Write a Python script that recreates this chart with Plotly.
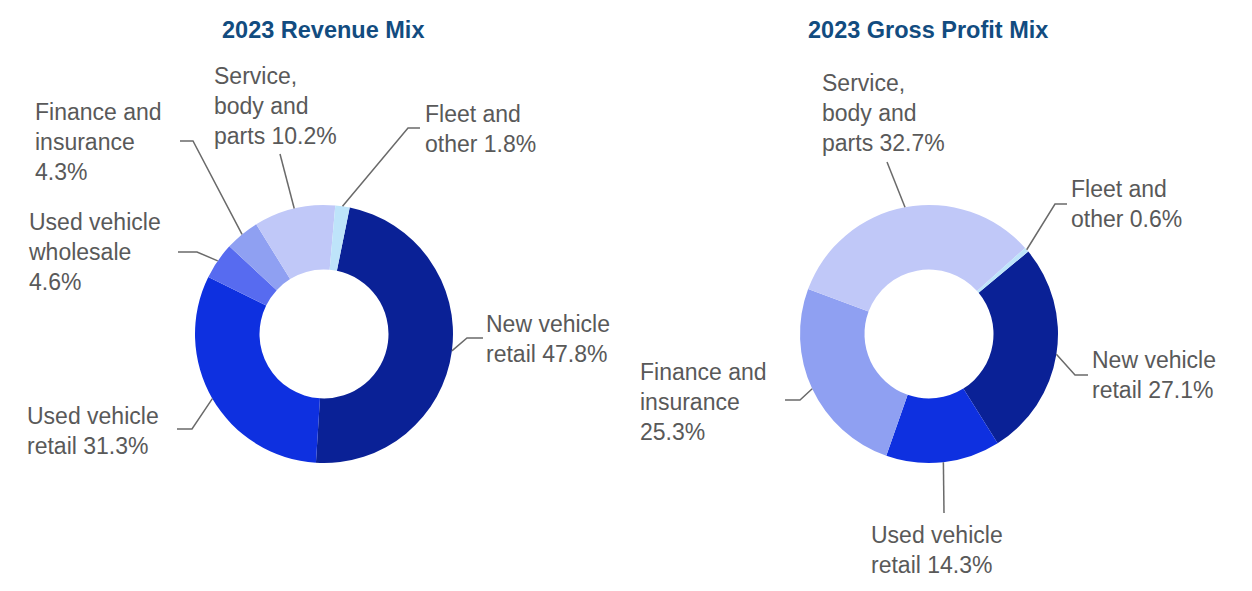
import math
import plotly.graph_objects as go

# ---------------- data ----------------
rev_categories = ["New vehicle retail", "Used vehicle retail", "Used vehicle wholesale",
                  "Finance and insurance", "Service, body and parts", "Fleet and other"]
rev_values = [47.8, 31.3, 4.6, 4.3, 10.2, 1.8]

gp_categories = ["New vehicle retail", "Used vehicle retail",
                 "Finance and insurance", "Service, body and parts", "Fleet and other"]
gp_values = [27.1, 14.3, 25.3, 32.7, 0.6]

titles = ["2023 Revenue Mix", "2023 Gross Profit Mix"]

# label wording (line breaks) per category for each chart
rev_label_fmt = ["New vehicle<br>retail {v:.1f}%", "Used vehicle<br>retail {v:.1f}%",
                 "Used vehicle<br>wholesale<br>{v:.1f}%", "Finance and<br>insurance<br>{v:.1f}%",
                 "Service,<br>body and<br>parts {v:.1f}%", "Fleet and<br>other {v:.1f}%"]
gp_label_fmt = ["New vehicle<br>retail {v:.1f}%", "Used vehicle<br>retail {v:.1f}%",
                "Finance and<br>insurance<br>{v:.1f}%", "Service,<br>body and<br>parts {v:.1f}%",
                "Fleet and<br>other {v:.1f}%"]

# ---------------- styles / layout ----------------
W, H = 1252, 591
FONT = "Arial, Liberation Sans, sans-serif"
LABEL_COLOR = "#595959"
LINE_COLOR = "#6A6A6A"
TITLE_COLOR = "#124C80"
colors = {
    "New vehicle retail": "#0A2196",
    "Used vehicle retail": "#0E30E0",
    "Used vehicle wholesale": "#576BF0",
    "Finance and insurance": "#8FA0F2",
    "Service, body and parts": "#C0C8F8",
    "Fleet and other": "#BEE4FA",
}
TXT_DX = -3  # compensate annotation padding

charts = [
    dict(cats=rev_categories, vals=rev_values, fmts=rev_label_fmt, title=titles[0],
         center=(324, 334), radius=129, rotation=11.5, title_pos=(323, 30),
         # per slice: label (x_left, y_center) and leader-line bend points
         labels=[((487, 339), [(467, 338), (483, 338)]),
                 ((28, 431), [(192, 429), (177, 429)]),
                 ((29, 252), [(197, 252), (178, 252)]),
                 ((36, 142), [(193, 141), (180, 141)]),
                 ((215, 106), [(280, 154)]),
                 ((426, 129), [(408, 128), (420, 128)])]),
    dict(cats=gp_categories, vals=gp_values, fmts=gp_label_fmt, title=titles[1],
         center=(929, 334), radius=129, rotation=50.3, title_pos=(928, 30),
         labels=[((1093, 375), [(1075, 375), (1088, 375)]),
                 ((872, 550), [(944, 513)]),
                 ((641, 402), [(800, 400), (785, 400)]),
                 ((823, 113), [(887, 162)]),
                 ((1072, 204), [(1055, 204), (1067, 204)])]),
]


def px(x):
    return x / W


def py(y):
    return 1 - y / H


fig = go.Figure()
annotations = []
shapes = []

for ch in charts:
    cx, cy = ch["center"]
    r = ch["radius"]
    fig.add_trace(go.Pie(
        labels=ch["cats"], values=ch["vals"], hole=0.5, sort=False,
        direction="clockwise", rotation=ch["rotation"],
        marker=dict(colors=[colors[c] for c in ch["cats"]], line=dict(width=0)),
        textinfo="none", hoverinfo="label+percent", showlegend=False,
        domain=dict(x=[px(cx - r), px(cx + r)], y=[py(cy + r), py(cy - r)]),
    ))
    annotations.append(dict(
        text="<b>%s</b>" % ch["title"], x=px(ch["title_pos"][0]), y=py(ch["title_pos"][1]),
        xref="paper", yref="paper", xanchor="center", yanchor="middle", showarrow=False,
        font=dict(family=FONT, size=23.5, color=TITLE_COLOR)))

    total = sum(ch["vals"])
    cum = 0.0
    for v, fmt, (lab_pos, bends) in zip(ch["vals"], ch["fmts"], ch["labels"]):
        mid = ch["rotation"] + 360.0 * (cum + v / 2.0) / total
        cum += v
        a = math.radians(mid)
        ax = cx + r * math.sin(a)
        ay = cy - r * math.cos(a)
        pts = [(ax, ay)] + bends
        path = "M " + " L ".join("%.5f,%.5f" % (px(x), py(y)) for x, y in pts)
        shapes.append(dict(type="path", path=path, xref="paper", yref="paper",
                           line=dict(color=LINE_COLOR, width=1.5)))
        annotations.append(dict(
            text=fmt.format(v=v), x=px(lab_pos[0] + TXT_DX), y=py(lab_pos[1]),
            xref="paper", yref="paper", xanchor="left", yanchor="middle", align="left",
            showarrow=False, font=dict(family=FONT, size=23, color=LABEL_COLOR)))

fig.update_layout(
    width=W, height=H,
    margin=dict(l=0, r=0, t=0, b=0),
    paper_bgcolor="white", plot_bgcolor="white",
    annotations=annotations, shapes=shapes,
)

fig.write_html("out.html", config={"displayModeBar": False},
               post_script="document.body.style.margin='0';document.body.style.overflow='hidden';")
